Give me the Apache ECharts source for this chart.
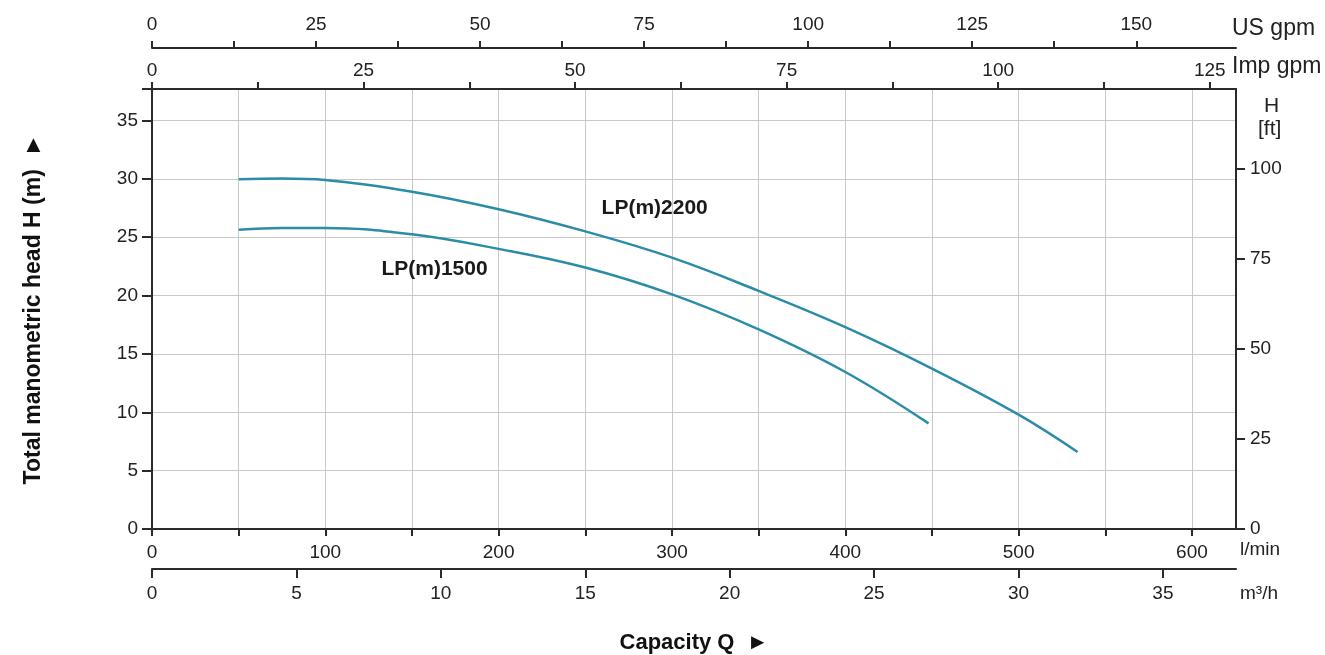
<!DOCTYPE html>
<html>
<head>
<meta charset="utf-8">
<script src="https://cdn.jsdelivr.net/npm/echarts@6/dist/echarts.min.js"></script>
<style>html,body{margin:0;padding:0;background:#fff;}#c{width:1325px;height:655px;}</style>
</head>
<body>
<div id="c"></div>
<script>
// ---- data (flow in l/min, head in m) ----
const lp2200Flow = [50, 75, 100, 150, 200, 250, 300, 350, 400, 450, 500, 534];
const lp2200Head = [29.97, 30.03, 29.9, 28.9, 27.4, 25.5, 23.25, 20.4, 17.3, 13.75, 9.8, 6.6];
const lp1500Flow = [50, 75, 100, 150, 200, 250, 300, 350, 400, 448];
const lp1500Head = [25.65, 25.8, 25.8, 25.25, 24.0, 22.4, 20.1, 17.1, 13.45, 9.05];
const seriesNames = ['LP(m)2200', 'LP(m)1500'];
const labelAt2200 = [290, 27.45];
const labelAt1500 = [163, 22.3];
// tick values
const lminTicks = [0, 50, 100, 150, 200, 250, 300, 350, 400, 450, 500, 550, 600];
const lminLabels = [0, 100, 200, 300, 400, 500, 600];
const m3hLabels = [0, 5, 10, 15, 20, 25, 30, 35];
const impTicks = [0, 12.5, 25, 37.5, 50, 62.5, 75, 87.5, 100, 112.5, 125];
const impLabels = [0, 25, 50, 75, 100, 125];
const usTicks = [0, 12.5, 25, 37.5, 50, 62.5, 75, 87.5, 100, 112.5, 125, 137.5, 150];
const usLabels = [0, 25, 50, 75, 100, 125, 150];
const mLabels = [0, 5, 10, 15, 20, 25, 30, 35];
const ftLabels = [0, 25, 50, 75, 100];
// axis extents
const lminMax = 625.4, m3hMax = 37.53, impMax = 128.1, usMax = 165.2, mMax = 37.7, ftMax = 122.2;

const pair = (xs, ys) => xs.map((x, i) => [x, ys[i]]);
const FONT = '"Liberation Sans", Arial, Helvetica, sans-serif';
const AX = '#2a2a2a';
const TXT = '#222';
const CURVE = '#2b8ca8';

function only(list) { return v => (list.some(t => Math.abs(t - v) < 1e-6) ? String(v) : ''); }

function xAx(o) {
  return Object.assign({
    type: 'value', gridIndex: 0, min: 0,
    axisLine: { show: true, onZero: false, lineStyle: { color: AX, width: 2 } },
    axisTick: { show: true, inside: false, length: 7, lineStyle: { color: AX, width: 2 } },
    axisLabel: { color: TXT, fontSize: 19, fontFamily: FONT },
    splitLine: { show: false }
  }, o);
}

const option = {
  animation: false,
  backgroundColor: '#fff',
  grid: [{ left: 152, top: 89, width: 1084, height: 440, containLabel: false, outerBoundsMode: 'none' }],
  xAxis: [
    xAx({ position: 'bottom', max: lminMax, interval: 50,
      axisTick: { show: true, length: 7, customValues: lminTicks, lineStyle: { color: AX, width: 2 } },
      axisLabel: { color: TXT, fontSize: 19, fontFamily: FONT, margin: 14, customValues: lminLabels, formatter: only(lminLabels) },
      splitLine: { show: true, lineStyle: { color: '#c9c9c9', width: 1 } } }),
    xAx({ position: 'bottom', offset: 40, max: m3hMax, interval: 5,
      axisTick: { show: true, length: 9, customValues: m3hLabels, lineStyle: { color: AX, width: 2 } },
      axisLabel: { color: TXT, fontSize: 19, fontFamily: FONT, margin: 15, customValues: m3hLabels, formatter: only(m3hLabels) },
      name: 'Capacity Q  \u25BA', nameLocation: 'middle', nameGap: 63,
      nameTextStyle: { fontSize: 22, fontWeight: 'bold', color: '#111', fontFamily: FONT } }),
    xAx({ position: 'top', offset: 0, max: impMax, interval: 12.5,
      axisTick: { show: true, length: 7, customValues: impTicks, lineStyle: { color: AX, width: 2 } },
      axisLabel: { color: TXT, fontSize: 19, fontFamily: FONT, margin: 9, customValues: impLabels, formatter: only(impLabels) } }),
    xAx({ position: 'top', offset: 41, max: usMax, interval: 12.5,
      axisTick: { show: true, length: 7, customValues: usTicks, lineStyle: { color: AX, width: 2 } },
      axisLabel: { color: TXT, fontSize: 19, fontFamily: FONT, margin: 14, customValues: usLabels, formatter: only(usLabels) } })
  ],
  yAxis: [
    { type: 'value', gridIndex: 0, position: 'left', min: 0, max: mMax, interval: 5,
      axisLine: { show: true, onZero: false, lineStyle: { color: AX, width: 2 } },
      axisTick: { show: true, length: 10, lineStyle: { color: AX, width: 2 } },
      axisLabel: { color: TXT, fontSize: 19, fontFamily: FONT, margin: 14, formatter: only(mLabels) },
      splitLine: { show: true, lineStyle: { color: '#c9c9c9', width: 1 } },
      name: 'Total manometric head H (m)  \u25BA', nameLocation: 'middle', nameRotate: 90, nameGap: 107,
      nameTextStyle: { fontSize: 23, fontWeight: 'bold', color: '#111', fontFamily: FONT } },
    { type: 'value', gridIndex: 0, position: 'right', min: 0, max: ftMax, interval: 25,
      axisLine: { show: true, onZero: false, lineStyle: { color: AX, width: 2 } },
      axisTick: { show: true, length: 9, customValues: ftLabels, lineStyle: { color: AX, width: 2 } },
      axisLabel: { color: TXT, fontSize: 19, fontFamily: FONT, margin: 14, customValues: ftLabels, formatter: only(ftLabels) },
      splitLine: { show: false } }
  ],
  series: [
    { name: seriesNames[0], type: 'line', xAxisIndex: 0, yAxisIndex: 0, smooth: 0.4, showSymbol: false,
      data: pair(lp2200Flow, lp2200Head), lineStyle: { color: CURVE, width: 2.5 },
      markPoint: { symbol: 'circle', symbolSize: 1, itemStyle: { color: 'rgba(0,0,0,0)' },
        label: { show: true, position: 'inside', formatter: seriesNames[0], fontSize: 21, fontWeight: 'bold', color: '#1a1a1a', fontFamily: FONT },
        data: [{ coord: labelAt2200 }] } },
    { name: seriesNames[1], type: 'line', xAxisIndex: 0, yAxisIndex: 0, smooth: 0.4, showSymbol: false,
      data: pair(lp1500Flow, lp1500Head), lineStyle: { color: CURVE, width: 2.5 },
      markPoint: { symbol: 'circle', symbolSize: 1, itemStyle: { color: 'rgba(0,0,0,0)' },
        label: { show: true, position: 'inside', formatter: seriesNames[1], fontSize: 21, fontWeight: 'bold', color: '#1a1a1a', fontFamily: FONT },
        data: [{ coord: labelAt1500 }] } }
  ],
  graphic: [
    { type: 'text', left: 1232, top: 17, style: { text: 'US gpm', fontSize: 23, fontFamily: FONT, fill: TXT } },
    { type: 'text', left: 1232, top: 55, style: { text: 'Imp gpm', fontSize: 23, fontFamily: FONT, fill: TXT } },
    { type: 'text', left: 1264, top: 96, style: { text: 'H', fontSize: 21, fontFamily: FONT, fill: TXT } },
    { type: 'text', left: 1258, top: 119, style: { text: '[ft]', fontSize: 21, fontFamily: FONT, fill: TXT } },
    { type: 'text', left: 1240, top: 540, style: { text: 'l/min', fontSize: 19, fontFamily: FONT, fill: TXT } },
    { type: 'text', left: 1240, top: 584, style: { text: 'm\u00B3/h', fontSize: 19, fontFamily: FONT, fill: TXT } }
  ]
};
const chart = echarts.init(document.getElementById('c'), null, { renderer: 'canvas' });
chart.setOption(option);
</script>
</body>
</html>
